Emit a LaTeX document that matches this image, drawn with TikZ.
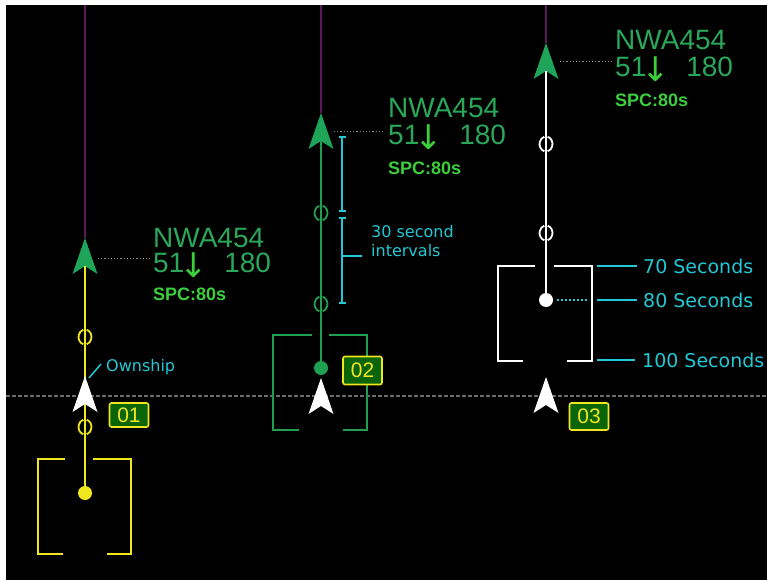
\documentclass[tikz,border=0pt]{standalone}
\usepackage{fontspec}
\setmainfont{Liberation Sans}
\newfontfamily\vfont{DejaVu Sans}
\definecolor{nwag}{HTML}{2AA85A}
\definecolor{spcg}{HTML}{3CCF3C}
\definecolor{arrg}{HTML}{1EA55A}
\definecolor{trkg}{HTML}{1FA050}
\definecolor{yel}{HTML}{F0E61E}
\definecolor{cy}{HTML}{22C8D4}
\definecolor{boxg}{HTML}{0A640A}
\definecolor{purp}{HTML}{5A1A5A}
\definecolor{grayd}{HTML}{6E6E6E}
\definecolor{leadg}{HTML}{8A8A8A}
\newcommand{\dnarrow}{{\vfont\fontsize{34}{34}\selectfont\color{spcg}\makebox[18pt][c]{\raisebox{-5pt}{↓}}}}
\begin{document}
\begin{tikzpicture}[x=1pt,y=-1pt,
  trk/.style={line width=2.4pt},
  purpline/.style={draw=purp,line width=1.2pt},
  leader/.style={draw=leadg,line width=1pt,dash pattern=on 1.2pt off 2pt},
  cs/.style={anchor=base west,inner sep=0pt,text=nwag,font=\fontsize{28}{28}\selectfont,text height=20pt,text depth=0pt},
  alt/.style={cs,text height=19pt,text depth=6pt},
  spc/.style={anchor=base west,inner sep=0pt,text=spcg,font=\bfseries\fontsize{18}{18}\selectfont},
  cylbl/.style={anchor=base west,inner sep=0pt,text=cy,font=\vfont\fontsize{16}{19}\selectfont,align=left},
  seclbl/.style={anchor=base west,inner sep=0pt,text=cy,font=\vfont\fontsize{19}{19}\selectfont},
  tag/.style={draw=yel,fill=boxg,line width=1.6pt,rounded corners=2pt,text=yel,
    font=\fontsize{21}{21}\selectfont,inner sep=0pt,minimum width=39pt},
  dotn/.style={circle,inner sep=0pt,minimum size=14pt},
  cyline/.style={draw=cy,line width=1.8pt},
  chev/.pic={\fill[pic actions] (0,0) -- (-12.5,36) -- (0,28) -- (12.5,36) -- cycle;
    \coordinate (-tip) at (0,0); \coordinate (-notch) at (0,28);},
  mk/.pic={\draw[pic actions] ([shift={(105:6.5 and 7.5)}]0,0) arc[start angle=105,end angle=255,x radius=6.5,y radius=7.5];
    \draw[pic actions] ([shift={(-75:6.5 and 7.5)}]0,0) arc[start angle=-75,end angle=75,x radius=6.5,y radius=7.5];}
]
\useasboundingbox (0,0) rectangle (767,580);
\fill[white] (0,0) rectangle (767,580);
\fill[black] (6,5) rectangle (767,580);

% horizontal dashed line
\coordinate (hl) at (6,396);
\coordinate (hr) at (767,396);
\draw[grayd,line width=1.2pt,dash pattern=on 4pt off 2pt] (hl) -- (hr);

% ================= Track 1 (yellow) =================
\coordinate (p1) at (85,5);
\pic[fill=arrg] (g1) at (85,238) {chev};
\draw[purpline] (p1) -- (g1-tip);
\node[dotn,fill=yel] (d1) at (85,493) {};
\draw[yel,trk] (g1-notch) -- (d1.center);
\pic[draw=yel,line width=1.8pt] at (85,337) {mk};
\pic[draw=yel,line width=1.8pt] at (85,427) {mk};
\draw[yel,trk] (65,459) -- (38,459) -- (38,554) -- (63,554);
\draw[yel,trk] (93,459) -- (131,459) -- (131,554) -- (107,554);
\pic[fill=white] (w1) at (85,376) {chev};
\node[tag,minimum height=24pt] (t1) at (129,415) {01};
\node[cs] (c1) at (153,247) {NWA454};
\node[alt] (v1) at (153,272) {51\dnarrow\hspace{22pt}180};
\node[spc] (s1) at (153,300) {SPC:80s};
\coordinate (l1a) at (98,258);
\coordinate (l1b) at (150,258);
\draw[leader] (l1a) -- (l1b);
\node[cylbl] (own) at (106,371) {Ownship};
\coordinate (o1a) at (89,378);
\coordinate (o1b) at (101,364);
\draw[cy,line width=1.5pt] (o1a) -- (o1b);

% ================= Track 2 (green) =================
\coordinate (p2) at (321,5);
\pic[fill=arrg] (g2) at (321,113) {chev};
\draw[purpline] (p2) -- (g2-tip);
\node[dotn,fill=trkg] (d2) at (321,368) {};
\draw[trkg,trk] (g2-notch) -- (d2.center);
\pic[draw=trkg,line width=1.8pt] at (321,213) {mk};
\pic[draw=trkg,line width=1.8pt] at (321,304) {mk};
\draw[trkg,trk] (312,335) -- (273,335) -- (273,430) -- (299,430);
\draw[trkg,trk] (329,335) -- (367,335) -- (367,430) -- (343,430);
\pic[fill=white] (w2) at (321,378) {chev};
\node[tag,minimum height=28pt] (t2) at (362.5,370.5) {02};
\node[cs] (c2) at (388,118) {NWA454};
\node[alt] (v2) at (388,145) {51\dnarrow\hspace{22pt}180};
\node[spc] (s2) at (388,174) {SPC:80s};
\coordinate (l2a) at (334,132);
\coordinate (l2b) at (385,132);
\draw[leader] (l2a) -- (l2b);
% interval bracket
\coordinate (i1a) at (342,137);
\coordinate (i1b) at (342,211);
\coordinate (i2a) at (342,218);
\coordinate (i2b) at (342,303);
\draw[cyline] (i1a) -- (i1b);
\draw[cyline] (i2a) -- (i2b);
\foreach \yy in {137,211,218,303}{\draw[cy,line width=1.6pt] (338.5,\yy) -- (345.5,\yy);}
\coordinate (itk) at (342,256);
\node[cylbl] (iv) at (371,256) {30 second\\intervals};
\draw[cyline] (itk) -- (362,256);

% ================= Track 3 (white) =================
\coordinate (p3) at (546,5);
\pic[fill=arrg] (g3) at (546,43) {chev};
\draw[purpline] (p3) -- (g3-tip);
\node[dotn,fill=white] (d3) at (546,300) {};
\draw[white,trk] (g3-notch) -- (d3.center);
\pic[draw=white,line width=1.8pt] at (546,144) {mk};
\pic[draw=white,line width=1.8pt] at (546,233) {mk};
\draw[white,trk] (535,266) -- (498,266) -- (498,361) -- (523,361);
\draw[white,trk] (554,266) -- (592,266) -- (592,361) -- (567,361);
\pic[fill=white] (w3) at (546,377) {chev};
\node[tag,minimum height=27pt] (t3) at (589,416.5) {03};
\node[cs] (c3) at (615,50) {NWA454};
\node[alt] (v3) at (615,77) {51\dnarrow\hspace{22pt}180};
\node[spc] (s3) at (615,107) {SPC:80s};
\coordinate (l3a) at (560,62);
\coordinate (l3b) at (612,62);
\draw[leader] (l3a) -- (l3b);
% seconds labels
\node[seclbl] (s70) at (643,273) {70 Seconds};
\node[seclbl] (s80) at (643,307) {80 Seconds};
\node[seclbl] (s100) at (642,367) {100 Seconds};
\coordinate (k70) at (597,266);
\coordinate (k80) at (597,300);
\coordinate (k100) at (597,360);
\draw[cyline] (k70) -- (637,266);
\draw[cyline] (k80) -- (637,300);
\draw[cyline] (k100) -- (635,360);
\coordinate (dd) at (557,300);
\draw[cy,line width=2pt,dash pattern=on 2pt off 2pt] (dd) -- (589,300);
\end{tikzpicture}
\end{document}
